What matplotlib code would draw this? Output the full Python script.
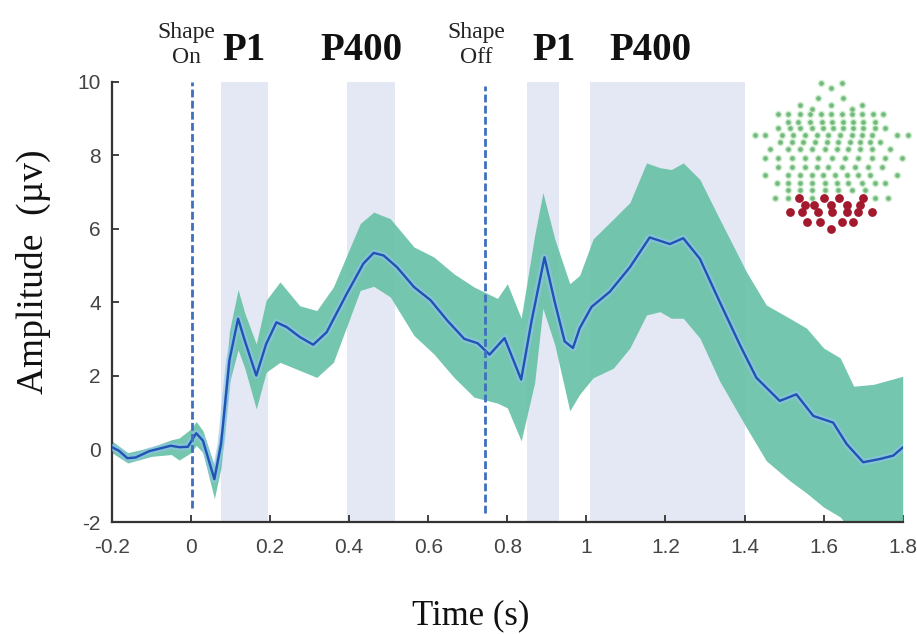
import matplotlib
matplotlib.use("Agg")
import matplotlib.pyplot as plt

# ---------------- data ----------------
t_mean = [-0.2, -0.182, -0.161, -0.14, -0.106, -0.051, -0.03, -0.008, 0.013, 0.03,
          0.059, 0.076, 0.097, 0.119, 0.136, 0.165, 0.19, 0.216, 0.242, 0.275,
          0.309, 0.343, 0.394, 0.436, 0.462, 0.487, 0.521, 0.564, 0.606, 0.648,
          0.691, 0.725, 0.755, 0.793, 0.835, 0.861, 0.894, 0.92, 0.945, 0.966,
          0.983, 1.013, 1.059, 1.11, 1.16, 1.186, 1.211, 1.245, 1.287, 1.337,
          1.388, 1.43, 1.489, 1.531, 1.574, 1.624, 1.658, 1.7, 1.743, 1.776, 1.8]
amp_mean = [0.05, -0.05, -0.25, -0.23, -0.06, 0.09, 0.05, 0.06, 0.43, 0.23,
            -0.82, 0.14, 2.41, 3.55, 2.95, 2.0, 2.86, 3.45, 3.32, 3.05,
            2.84, 3.18, 4.23, 5.05, 5.34, 5.27, 4.95, 4.41, 4.05, 3.5,
            3.0, 2.88, 2.57, 3.02, 1.89, 3.47, 5.22, 4.0, 2.93, 2.75,
            3.29, 3.87, 4.28, 4.95, 5.76, 5.67, 5.58, 5.74, 5.18, 4.01,
            2.84, 1.94, 1.31, 1.49, 0.9, 0.72, 0.14, -0.36, -0.27, -0.18, 0.04]

t_band = [-0.2, -0.16, -0.1, -0.05, -0.03, 0.0, 0.013, 0.03, 0.059, 0.076,
          0.097, 0.119, 0.136, 0.165, 0.19, 0.225, 0.275, 0.318, 0.36, 0.428,
          0.462, 0.504, 0.564, 0.614, 0.665, 0.716, 0.775, 0.8, 0.835, 0.869,
          0.89, 0.92, 0.958, 0.983, 1.017, 1.068, 1.11, 1.152, 1.186, 1.215,
          1.245, 1.287, 1.337, 1.405, 1.455, 1.514, 1.557, 1.6, 1.642, 1.676,
          1.726, 1.8]
band_upper = [0.22, -0.1, 0.05, 0.25, 0.3, 0.55, 0.75, 0.5, -0.45, 0.6,
              3.2, 4.34, 3.7, 2.86, 4.05, 4.55, 3.9, 3.77, 4.41, 6.14,
              6.45, 6.27, 5.5, 5.23, 4.77, 4.41, 4.1, 4.5, 3.56, 5.81,
              6.98, 5.72, 4.5, 4.73, 5.72, 6.26, 6.71, 7.79, 7.66, 7.61,
              7.79, 7.34, 6.26, 4.82, 3.92, 3.56, 3.29, 2.75, 2.48, 1.71,
              1.76, 1.98]
band_lower = [-0.1, -0.38, -0.2, -0.15, -0.3, -0.1, 0.1, -0.1, -1.35, -0.5,
              1.8, 2.7, 2.2, 1.09, 2.09, 2.36, 2.14, 1.95, 2.36, 4.32,
              4.43, 4.14, 3.09, 2.59, 1.95, 1.41, 1.25, 1.12, 0.22, 1.8,
              3.83, 2.84, 1.04, 1.49, 1.94, 2.2, 2.75, 3.65, 3.74, 3.56,
              3.56, 3.02, 1.85, 0.58, -0.32, -0.86, -1.2, -1.58, -1.85, -2.3,
              -2.8, -3.2]

windows = [(0.075, 0.195), (0.395, 0.515), (0.85, 0.93), (1.01, 1.40)]
window_labels = ["P1", "P400", "P1", "P400"]
window_label_x = [0.135, 0.431, 0.917, 1.163]
events = [0.0025, 0.7425]
event_labels = ["Shape\nOn", "Shape\nOff"]
event_label_x = [-0.012, 0.722]

xticks = [-0.2, 0, 0.2, 0.4, 0.6, 0.8, 1.0, 1.2, 1.4, 1.6, 1.8]
xtick_labels = ["-0.2", "0", "0.2", "0.4", "0.6", "0.8", "1", "1.2", "1.4", "1.6", "1.8"]
yticks = [-2, 0, 2, 4, 6, 8, 10]
ytick_labels = ["-2", "0", "2", "4", "6", "8", "10"]

# electrode map (inset image coordinates)
green_rows = {
    83: [821, 842], 88: [831], 98: [818, 843], 105: [800, 831, 862], 109: [812, 852],
    114: [778, 788, 800, 810, 821, 831, 842, 852, 862, 873, 883],
    122: [788, 798, 810, 822, 832, 843, 853, 863, 875],
    128: [778, 790, 800, 812, 823, 833, 843, 853, 863, 875, 885],
    135: [755, 765, 782, 793, 805, 817, 828, 840, 852, 862, 872, 897, 908],
    142: [780, 792, 803, 815, 827, 838, 850, 860, 870, 880],
    149: [770, 788, 800, 812, 825, 837, 848, 860, 872, 890],
    158: [765, 778, 792, 805, 818, 832, 845, 858, 872, 885, 902],
    167: [778, 792, 805, 817, 828, 842, 855, 868, 882],
    175: [765, 788, 800, 812, 823, 835, 847, 858, 870, 897],
    183: [777, 788, 800, 812, 825, 837, 848, 862, 875, 885],
    190: [788, 800, 812, 825, 838, 852, 865],
    198: [775, 788, 812, 875, 888],
}
red_rows = {
    198: [799, 824, 839, 863],
    205: [805, 814, 831, 847, 860],
    212: [790, 802, 818, 832, 847, 858, 872],
    222: [807, 820, 842, 853],
    229: [831],
}

# ---------------- figure ----------------
serif = ["Liberation Serif", "DejaVu Serif"]
sans = ["Liberation Sans", "DejaVu Sans"]

fig = plt.figure(figsize=(9.17, 6.34), dpi=100)
ax = fig.add_axes([0.1221, 0.1759, 0.8623, 0.6952])
ax.set_xlim(-0.2, 1.8)
ax.set_ylim(-2, 10)

for a, b in windows:
    ax.axvspan(a, b, color="#e3e8f4", lw=0, zorder=0)

ax.fill_between(t_band, band_lower, band_upper, color="#69c2a8", alpha=0.93, lw=0, zorder=2)
ax.plot(t_mean, amp_mean, color="#8fc3ec", lw=5, alpha=0.6, zorder=3,
        solid_joinstyle="round", solid_capstyle="round")
ax.plot(t_mean, amp_mean, color="#2152b5", lw=1.7, zorder=4, solid_joinstyle="round")

ax.plot([events[0]] * 2, [-1.6, 10.0], color="#3f6fbf", lw=2.0, ls=(0, (2.8, 1.2)),
        zorder=5, clip_on=False)
ax.plot([events[1]] * 2, [-1.75, 9.87], color="#3f6fbf", lw=2.0, ls=(0, (2.8, 1.2)),
        zorder=5, clip_on=False)

for x, lab in zip(window_label_x, window_labels):
    ax.text(x, 10.6, lab, ha="center", va="baseline", fontsize=28, fontweight="bold",
            family=serif, color="#111111", clip_on=False)
for x, lab in zip(event_label_x, event_labels):
    ax.text(x, 10.5, lab, ha="center", va="baseline", fontsize=17, family=serif,
            color="#222222", linespacing=1.3, clip_on=False)

for side in ["top", "right"]:
    ax.spines[side].set_visible(False)
for side in ["left", "bottom"]:
    ax.spines[side].set_color("#333333")
    ax.spines[side].set_linewidth(1.6)

ax.set_xticks(xticks)
ax.set_xticklabels(xtick_labels, family=sans, fontsize=15, color="#444444")
ax.set_yticks(yticks)
ax.set_yticklabels(ytick_labels, family=sans, fontsize=15, color="#444444")
ax.tick_params(direction="in", length=5, width=1.3, color="#333333")
ax.tick_params(axis="y", pad=8)
ax.tick_params(axis="x", pad=11)

fig.text(33 / 917, 1 - 272 / 634, "Amplitude  (\u00b5v)", rotation=90, ha="center",
         va="center", fontsize=27, family=serif, color="#111111")
fig.text(471 / 917, 1 - 616 / 634, "Time (s)", ha="center", va="center",
         fontsize=25, family=serif, color="#111111")

# electrode map inset
axm = fig.add_axes([745 / 917, (634 - 235) / 634, 172 / 917, 163 / 634])
axm.set_xlim(745, 917)
axm.set_ylim(235, 72)
axm.axis("off")
gx = [x for y, xs in green_rows.items() for x in xs]
gy = [y for y, xs in green_rows.items() for x in xs]
rx = [x for y, xs in red_rows.items() for x in xs]
ry = [y for y, xs in red_rows.items() for x in xs]
axm.scatter(gx, gy, s=30, color="#d2efd2", lw=0, zorder=1)
axm.scatter(gx, gy, s=11, color="#72b97e", lw=0, zorder=2)
axm.scatter(rx, ry, s=40, color="#a3192e", lw=0, zorder=3)

fig.savefig("out.png", dpi=100)
